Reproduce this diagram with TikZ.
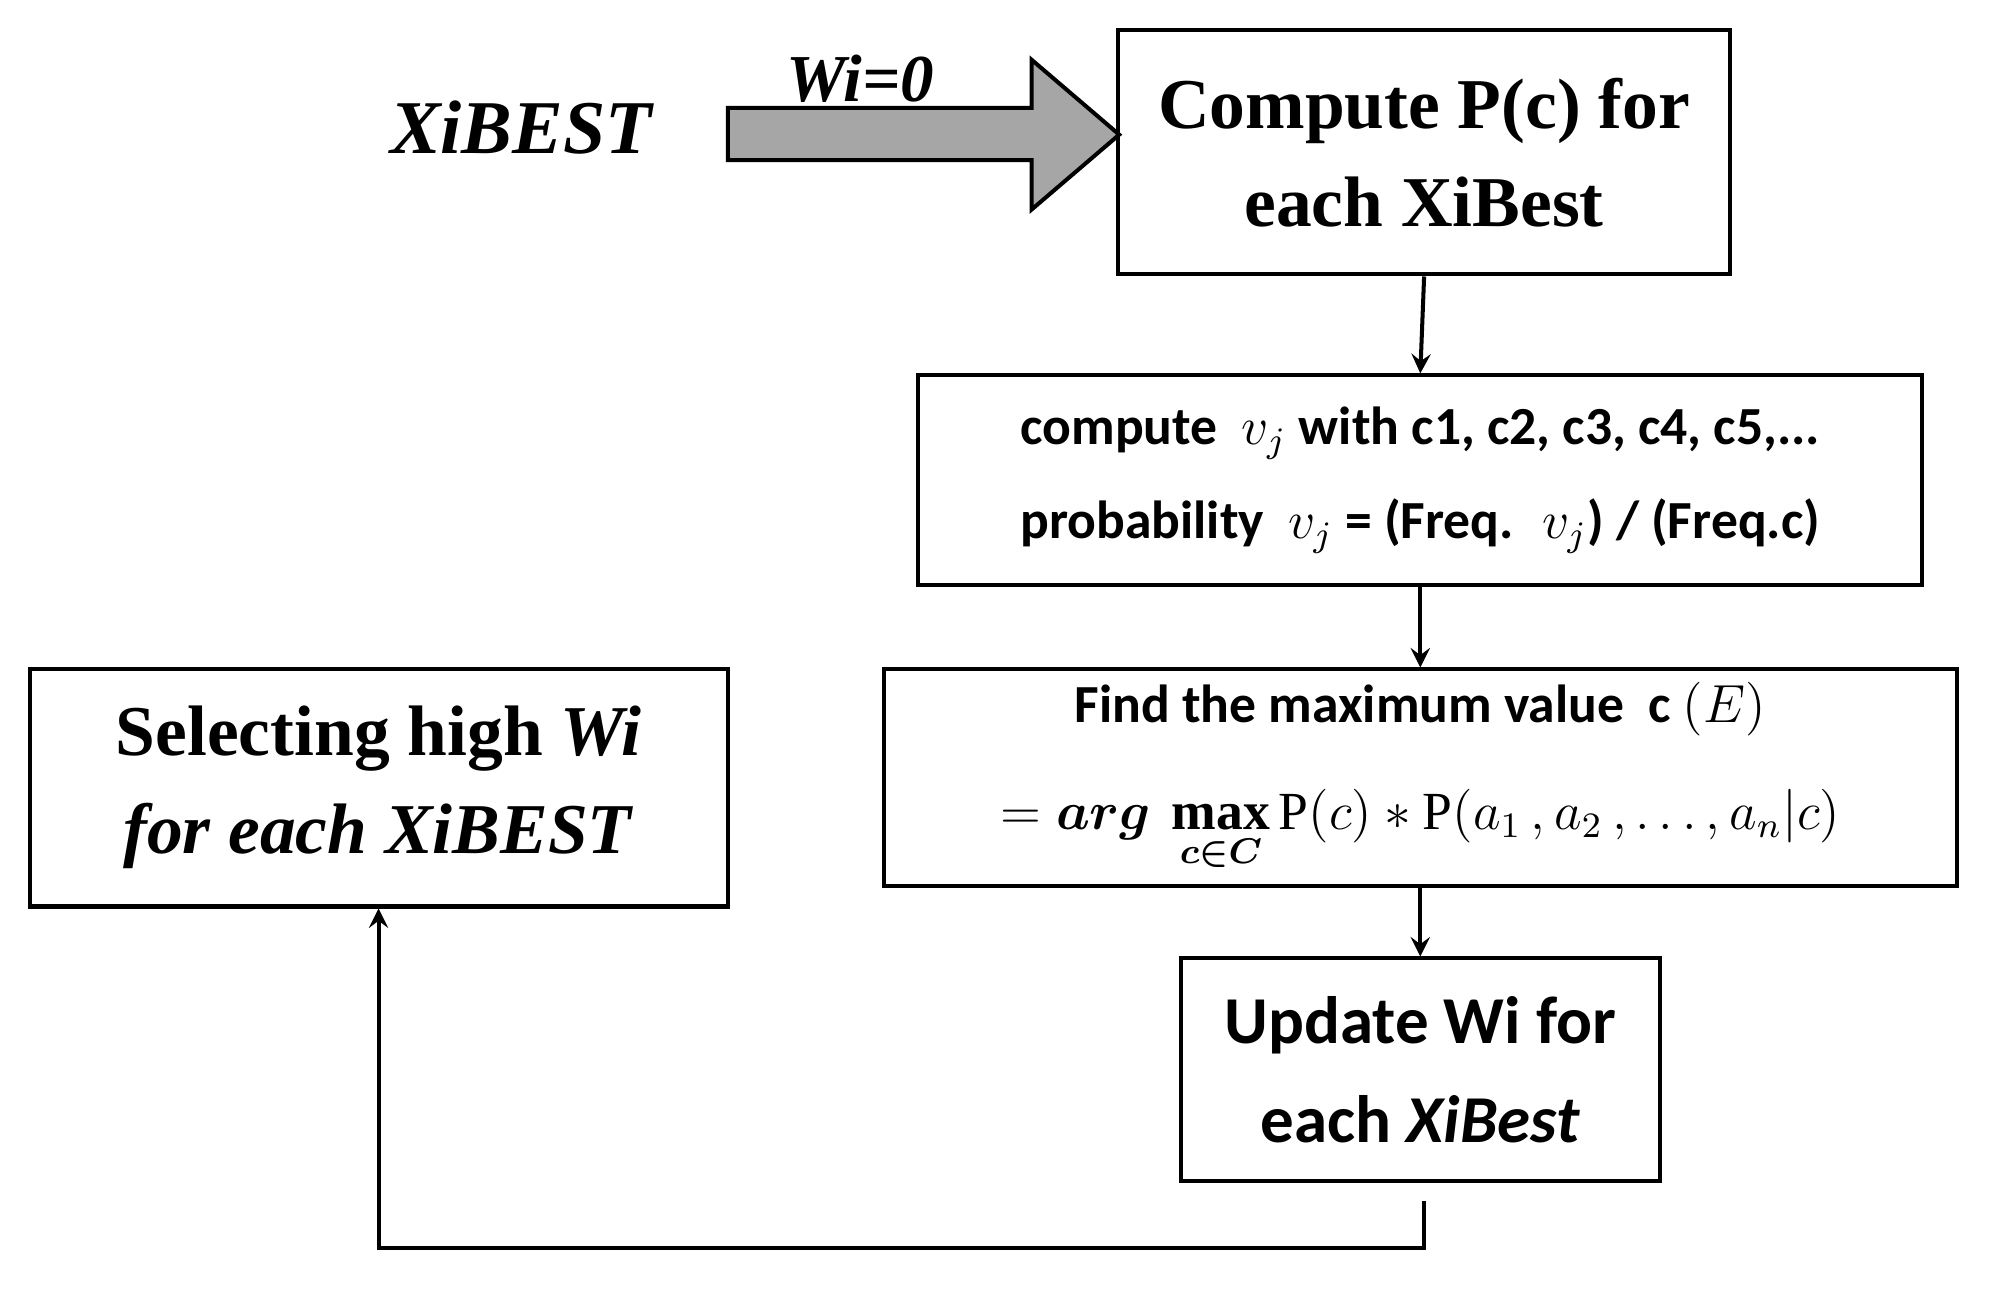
\documentclass[tikz,border=0pt]{standalone}
\usepackage{amsmath}
\usepackage{fontspec}
\setmainfont{Liberation Serif}
\newfontfamily\calfnt{Carlito}
\begin{document}
\begin{tikzpicture}[x=0.01cm,y=-0.01cm,
 box/.style={draw,line width=0.9pt,align=center,inner sep=0pt},
 arr/.style={-stealth,line width=0.9pt}]
\useasboundingbox (0,0) rectangle (1568,1016);
\node[box,minimum width=4.81cm,minimum height=1.92cm,font=\fontsize{16}{22}\selectfont\bfseries] (p) at (1121,120) {Compute P(c) for\\each XiBest};
\node[box,minimum width=7.90cm,minimum height=1.65cm,font=\calfnt\fontsize{12}{21}\selectfont\bfseries] (v) at (1118,378) {compute~ $v_j$ with c1, c2, c3, c4, c5,...\\probability~ $v_j$ = (Freq.~ $v_j$) / (Freq.c)};
\node[box,minimum width=8.44cm,minimum height=1.70cm,font=\calfnt\fontsize{12}{24}\selectfont\bfseries] (f) at (1118,612) {Find the maximum value~ c $(E)$\\$=\boldsymbol{arg\,\max\limits_{c\in C}}\,\mathrm{P}(c)*\mathrm{P}(a_1\,,a_2\,,\ldots,a_n|c)$};
\node[box,minimum width=3.77cm,minimum height=1.75cm,font=\calfnt\fontsize{15}{22}\selectfont\bfseries] (u) at (1118,842) {Update Wi for\\each \textit{XiBest}};
\node[box,minimum width=5.49cm,minimum height=1.87cm,font=\fontsize{16}{22}\selectfont\bfseries] (s) at (298,620) {Selecting high \textit{Wi}\\\textit{for each XiBEST}};
\node[font=\fontsize{17}{20}\selectfont\bfseries\itshape] (x) at (410,100) {XiBEST};
\node[font=\fontsize{15}{18}\selectfont\bfseries\itshape] (w) at (677,62) {Wi=0};
\draw[fill=gray!70,line width=0.9pt] (573,85) -- (812,85) -- (812,47) -- (881,106) -- (812,165) -- (812,126) -- (573,126) -- cycle;
\draw[arr] (p.south) -- (v.north);
\draw[arr] (v.south) -- (f.north);
\draw[arr] (f.south) -- (u.north);
\coordinate (c0) at (1121,945);
\coordinate (c1) at (1121,982);
\draw[arr] (c0) -- (c1) -| (s.south);
\end{tikzpicture}
\end{document}
